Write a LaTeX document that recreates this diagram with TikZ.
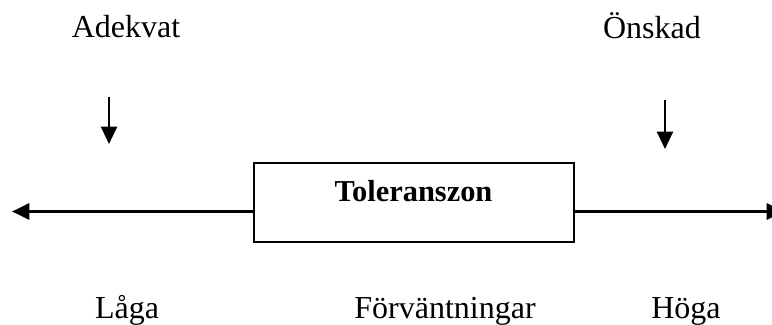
\documentclass[tikz,border=0pt]{standalone}
\usepackage{fontspec}
\setmainfont{Liberation Serif}
\usetikzlibrary{positioning,arrows.meta}

\tikzset{
  etikett/.style={font=\fontsize{24}{28}\selectfont,anchor=base,inner sep=0pt},
  pil/.style={line width=1.6pt,-{Triangle[length=13pt,width=12pt]}},
  axel/.style={line width=2.4pt,-{Triangle[length=13pt,width=12pt]}},
}

\begin{document}
\begin{tikzpicture}[x=0.75pt,y=-0.75pt]
\useasboundingbox (0,0) rectangle (772,325);
% toleranszonen
\node[rectangle,draw,line width=1.5pt,minimum width=240pt,minimum height=59pt,inner sep=0pt] (zon) at (413.5,202.5) {};
\node[font=\fontsize{22.8}{26}\selectfont\bfseries,anchor=base,inner sep=0pt] (zontext) at (413.5,201) {Toleranszon};
% axeln
\coordinate (vanster) at (12,211.5);
\coordinate (hoger) at (784,211.5);
\draw[axel] (zon.west |- vanster) -- (vanster);
\draw[axel] (zon.east |- hoger) -- (hoger);
% nivaer ovanfor
\node[etikett] (adekvat) at (126,37) {Adekvat};
\node[etikett] (onskad) at (652,38) {Önskad};
\coordinate (adekvat-topp) at (109,97);
\coordinate (adekvat-spets) at (109,144);
\coordinate (onskad-topp) at (665,100);
\coordinate (onskad-spets) at (665,149);
\draw[pil] (adekvat-topp) -- (adekvat-spets);
\draw[pil] (onskad-topp) -- (onskad-spets);
% forvantningar under
\node[etikett] (laga) at (127,318) {Låga};
\node[etikett] (forv) at (445,318) {Förväntningar};
\node[etikett] (hoga) at (686,318) {Höga};
\end{tikzpicture}
\end{document}
